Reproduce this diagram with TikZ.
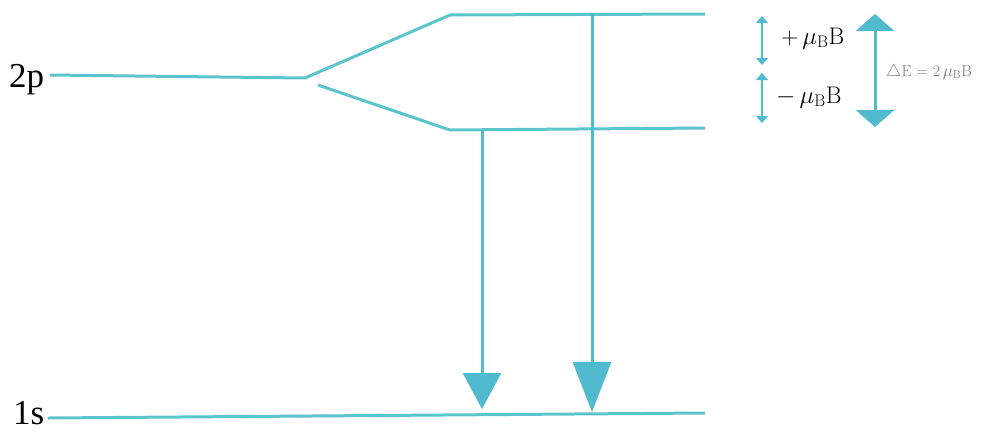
\documentclass[tikz,border=0pt]{standalone}
\usepackage{fontspec}
\newfontfamily\timesf{Liberation Serif}
\usetikzlibrary{arrows.meta}
\definecolor{lvl}{RGB}{92,196,204}
\definecolor{arr}{RGB}{80,186,206}
\definecolor{graytext}{RGB}{120,120,120}
\tikzset{
  level/.style={draw=lvl, line width=3pt, line join=round},
  trans/.style={draw=arr, line width=3pt},
  smallarr/.style={draw=arr, line width=1.2pt, {Triangle[width=12pt,length=7pt]}-{Triangle[width=12pt,length=7pt]}},
  bigarr/.style={draw=arr, line width=3pt, {Triangle[width=38pt,length=17pt]}-{Triangle[width=38pt,length=17pt]}},
  statelbl/.style={font=\timesf\fontsize{35}{35}\selectfont, inner sep=0pt},
  splitlbl/.style={font=\fontsize{24}{24}\selectfont, inner sep=0pt, anchor=base west},
}
\begin{document}
\begin{tikzpicture}[x=1pt,y=-1pt]
\useasboundingbox (0,0) rectangle (985,432);
% labels
\node[statelbl, anchor=base west] (l2p) at (9,87) {2p};
\node[statelbl, anchor=base west] (l1s) at (13,424) {1s};
% coordinates
\coordinate (p0) at (50,75);
\coordinate (p1) at (305,78);
\coordinate (u1) at (450,15);
\coordinate (u2) at (705,14);
\coordinate (d0) at (318,85);
\coordinate (d1) at (450,130);
\coordinate (d2) at (705,128);
\coordinate (s0) at (48,418);
\coordinate (s1) at (705,413);
% levels
\draw[level] (p0) -- (p1) -- (u1) -- (u2);
\draw[level] (d0) -- (d1) -- (d2);
\draw[level] (s0) -- (s1);
% transitions
\coordinate (t1a) at (482,130);
\coordinate (t1b) at (482,409);
\coordinate (t2a) at (592,14);
\coordinate (t2b) at (592,412);
\draw[trans, -{Triangle[width=38pt,length=36pt]}] (t1a) -- (t1b);
\draw[trans, -{Triangle[width=38pt,length=50pt]}] (t2a) -- (t2b);
% small arrows
\coordinate (a1) at (762,16);
\coordinate (a2) at (762,65);
\coordinate (a3) at (762,73);
\coordinate (a4) at (762,123);
\draw[smallarr] (a1) -- (a2);
\draw[smallarr] (a3) -- (a4);
\node[splitlbl] (plus) at (781,44) {+\,$\mu_{\mathrm{B}}$B};
\node[splitlbl] (minus) at (776,103) {$-\,\mu_{\mathrm{B}}$B};
% big double arrow
\coordinate (b1) at (875,14);
\coordinate (b2) at (875,127);
\draw[bigarr] (b1) -- (b2);
\node[font=\fontsize{16}{16}\selectfont, text=graytext, inner sep=0pt, anchor=base west] (de) at (886,76) {$\triangle$E = 2\,$\mu_{\mathrm{B}}$B};
\end{tikzpicture}
\end{document}
